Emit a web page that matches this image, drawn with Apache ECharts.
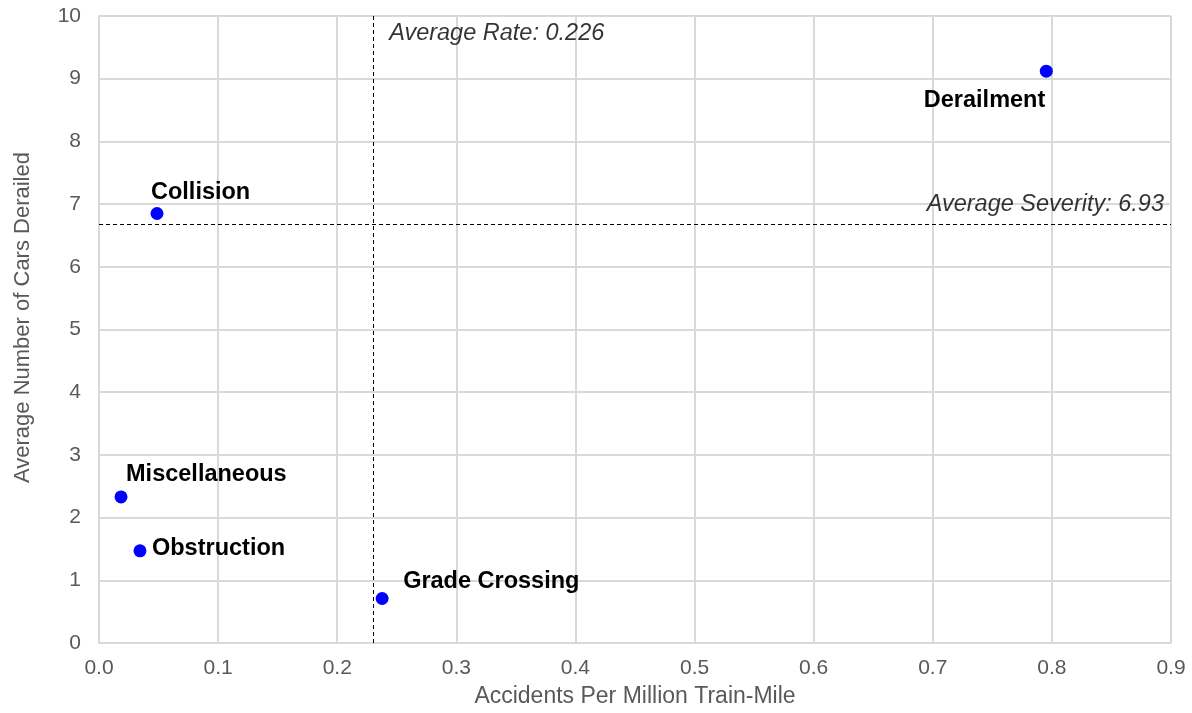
<!DOCTYPE html>
<html>
<head>
<meta charset="utf-8">
<script src="https://cdn.jsdelivr.net/npm/echarts@6/dist/echarts.min.js"></script>
<style>html,body{margin:0;padding:0;background:#fff;}#c{width:1192px;height:713px;}</style>
</head>
<body>
<div id="c"></div>
<script>
const categories = ['Collision', 'Derailment', 'Miscellaneous', 'Obstruction', 'Grade Crossing'];
const rateValues = [0.0487, 0.7953, 0.0185, 0.0344, 0.2377];
const severityValues = [6.85, 9.12, 2.33, 1.47, 0.71];
const avgRateLinePos = 0.231;
const avgSeverityLinePos = 6.68;
const avgRateText = 'Average Rate: 0.226';
const avgSeverityText = 'Average Severity: 6.93';
const xTicks = { min: 0, max: 0.9, interval: 0.1 };
const yTicks = { min: 0, max: 10, interval: 1 };

const FONT = "'Liberation Sans', Arial, sans-serif";
const labelCfg = {
  'Collision': { position: 'right', offset: [-12.5, -21], align: 'left' },
  'Derailment': { position: 'left', offset: [5.5, 29], align: 'right' },
  'Miscellaneous': { position: 'right', offset: [-1.5, -22], align: 'left' },
  'Obstruction': { position: 'right', offset: [5.5, -2], align: 'left' },
  'Grade Crossing': { position: 'right', offset: [14.5, -17], align: 'left' }
};

const points = categories.map((c, i) => ({
  name: c,
  value: [rateValues[i], severityValues[i]],
  label: Object.assign({ show: true, distance: 0, formatter: c, color: '#000000', fontSize: 23.5, fontWeight: 'bold', fontFamily: FONT }, labelCfg[c])
}));

const chart = echarts.init(document.getElementById('c'), null, { renderer: 'canvas' });
chart.setOption({
  animation: false,
  backgroundColor: '#ffffff',
  textStyle: { fontFamily: FONT },
  grid: { left: 99, right: 21, top: 16, bottom: 70, containLabel: false },
  xAxis: {
    type: 'value', min: xTicks.min, max: xTicks.max, interval: xTicks.interval,
    name: 'Accidents Per Million Train-Mile', nameLocation: 'middle', nameGap: 42,
    nameTextStyle: { color: '#595959', fontSize: 23, fontFamily: FONT },
    axisLine: { show: true, lineStyle: { color: '#d9d9d9', width: 2 } },
    axisTick: { show: false },
    axisLabel: { color: '#595959', fontSize: 21, fontFamily: FONT, margin: 15, formatter: v => v.toFixed(1) },
    splitLine: { show: true, lineStyle: { color: '#d9d9d9', width: 2 } }
  },
  yAxis: {
    type: 'value', min: yTicks.min, max: yTicks.max, interval: yTicks.interval,
    name: 'Average Number of Cars Derailed', nameLocation: 'middle', nameGap: 65,
    nameTextStyle: { color: '#595959', fontSize: 22, fontFamily: FONT, padding: [0, 0, 0, 24] },
    axisLine: { show: true, lineStyle: { color: '#d9d9d9', width: 2 } },
    axisTick: { show: false },
    axisLabel: { color: '#595959', fontSize: 21, fontFamily: FONT, margin: 18 },
    splitLine: { show: true, lineStyle: { color: '#d9d9d9', width: 2 } }
  },
  series: [
    {
      type: 'scatter',
      symbol: 'circle',
      symbolSize: 13,
      itemStyle: { color: '#0000ff', opacity: 1 },
      emphasis: { disabled: true },
      data: points,
      markLine: {
        silent: true,
        symbol: ['none', 'none'],
        label: { show: false },
        lineStyle: { color: '#000', type: [4, 3], width: 1, opacity: 1 },
        data: [{ xAxis: avgRateLinePos }, { yAxis: avgSeverityLinePos }]
      },
      z: 5
    },
    {
      type: 'scatter',
      symbolSize: 0,
      silent: true,
      data: [
        { value: [avgRateLinePos, yTicks.max], label: { show: true, formatter: avgRateText, position: 'right', distance: 0, offset: [15, 17], align: 'left' } },
        { value: [xTicks.max, avgSeverityLinePos], label: { show: true, formatter: avgSeverityText, position: 'left', distance: 0, offset: [-7, -20], align: 'right' } }
      ],
      label: { color: '#000000', fontSize: 23.5, fontStyle: 'italic', fontFamily: FONT },
      z: 6
    }
  ]
});
</script>
</body>
</html>
